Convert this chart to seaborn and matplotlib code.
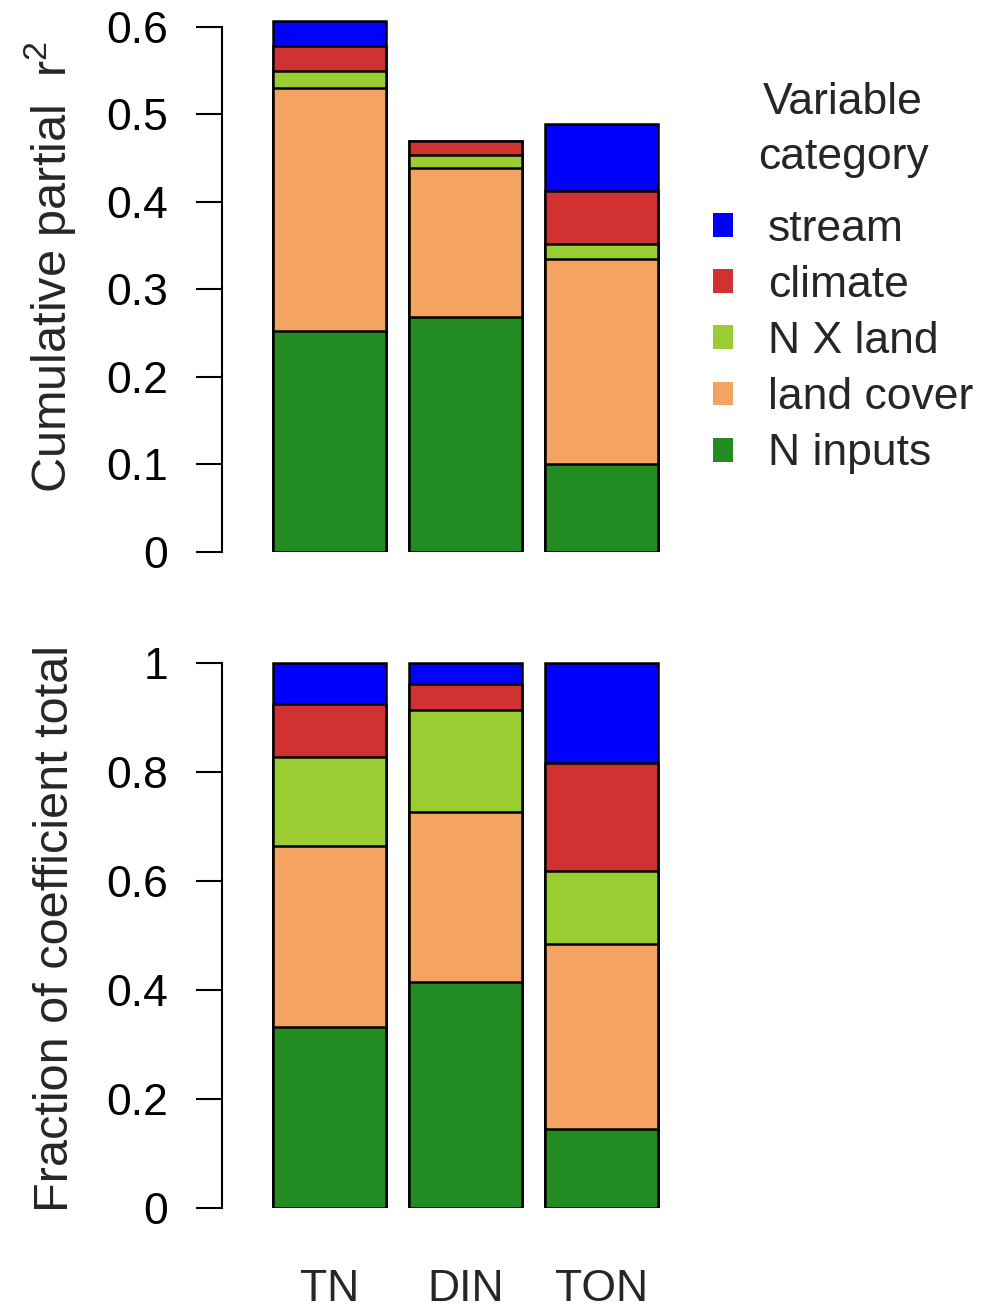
import pandas as pd
import seaborn as sns
import matplotlib.pyplot as plt
from matplotlib.patches import Patch
from matplotlib.ticker import FuncFormatter

responses = ["TN", "DIN", "TON"]
categories = ["N inputs", "land cover", "N X land", "climate", "stream"]
colors = ["#228B22", "#F4A460", "#9ACD32", "#D03232", "#0000FF"]

# cumulative partial r2 by variable category
r2_n_inputs = [0.253, 0.268, 0.100]
r2_land_cover = [0.277, 0.171, 0.235]
r2_n_x_land = [0.020, 0.015, 0.017]
r2_climate = [0.028, 0.016, 0.060]
r2_stream = [0.029, 0.000, 0.077]

# fraction of coefficient total
fr_n_inputs = [0.332, 0.415, 0.144]
fr_land_cover = [0.332, 0.312, 0.340]
fr_n_x_land = [0.164, 0.186, 0.135]
fr_climate = [0.097, 0.048, 0.198]
fr_stream = [0.075, 0.039, 0.183]

FS = 32

sns.set_style("white")
plt.rcParams["font.family"] = ["Liberation Sans", "DejaVu Sans"]
plt.rcParams["mathtext.fontset"] = "custom"
plt.rcParams["mathtext.rm"] = "Liberation Sans"
plt.rcParams["mathtext.it"] = "Liberation Sans"
plt.rcParams["mathtext.default"] = "regular"


def stacked(ax, parts):
    df = pd.DataFrame({c: v for c, v in zip(categories, parts)}, index=responses)
    cum = df.cumsum(axis=1)
    # draw tallest cumulative bar first, smaller ones on top
    for cat, col in reversed(list(zip(categories, colors))):
        d = pd.DataFrame({"response": responses, "value": cum[cat].values})
        sns.barplot(data=d, x="response", y="value", color=col, saturation=1,
                    edgecolor="black", linewidth=1.8, width=0.83, ax=ax)
    ax.set_xlim(-0.79, 2.5)
    for s in ["top", "right", "bottom"]:
        ax.spines[s].set_visible(False)
    ax.spines["left"].set_linewidth(1.5)
    ax.spines["left"].set_color("black")
    ax.tick_params(axis="y", direction="out", length=19, width=1.5,
                   pad=20, labelsize=FS, left=True, colors="black")
    ax.yaxis.set_major_formatter(FuncFormatter(lambda v, p: "%g" % round(v, 2)))
    ax.set_xlabel("")


fig = plt.figure(figsize=(9.9, 13.12), dpi=100)
ax1 = fig.add_axes([0.2242, 0.5793, 0.4520, 0.4135])
ax2 = fig.add_axes([0.2242, 0.0793, 0.4520, 0.4238])

stacked(ax1, [r2_n_inputs, r2_land_cover, r2_n_x_land, r2_climate, r2_stream])
ax1.set_ylim(0, 0.62)
ax1.set_yticks([0, 0.1, 0.2, 0.3, 0.4, 0.5, 0.6])
ax1.spines["left"].set_bounds(0, 0.6)
ax1.set_xticks([])
ax1.set_ylabel("Cumulative partial  r$^{2}$", fontsize=35)
ax1.yaxis.set_label_coords(-0.322, 0.525)

stacked(ax2, [fr_n_inputs, fr_land_cover, fr_n_x_land, fr_climate, fr_stream])
ax2.set_ylim(0, 1.02)
ax2.set_yticks([0, 0.2, 0.4, 0.6, 0.8, 1.0])
ax2.spines["left"].set_bounds(0, 1)
ax2.tick_params(axis="x", length=0, pad=44, labelsize=FS)
ax2.set_ylabel("Fraction of coefficient total", fontsize=35)
ax2.yaxis.set_label_coords(-0.322, 0.503)

fig.text(843 / 990, 1 - 130 / 1312, "Variable\ncategory", ha="center",
         va="center", fontsize=FS, linespacing=1.46)
handles = [Patch(facecolor=c, edgecolor="none") for c in reversed(colors)]
fig.legend(handles, list(reversed(categories)),
           loc="upper left", bbox_to_anchor=(713 / 990, 1 - 209 / 1312), frameon=False,
           fontsize=FS, handlelength=0.45, handleheight=0.45,
           handletextpad=0.79, labelspacing=0.34, borderpad=0, borderaxespad=0)

fig.savefig("out.png", dpi=100)
